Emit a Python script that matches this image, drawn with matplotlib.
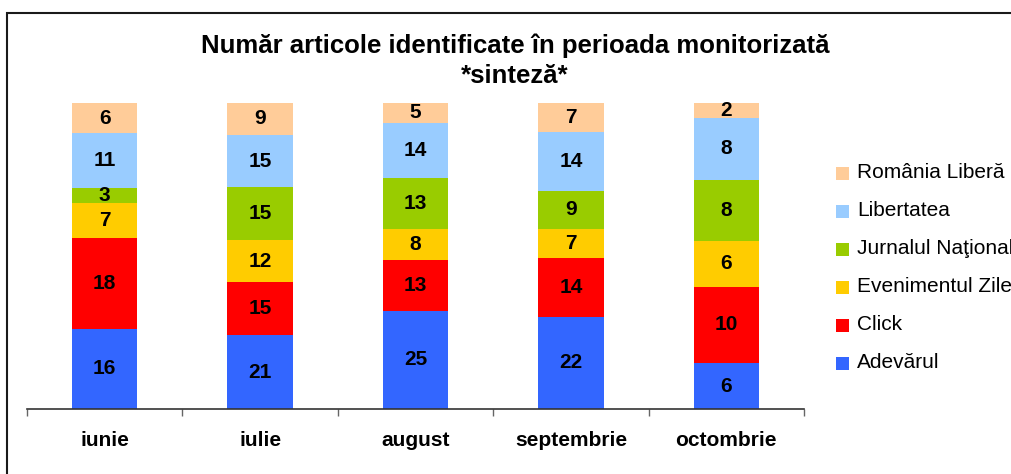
import matplotlib
matplotlib.use("Agg")
import matplotlib.pyplot as plt
from matplotlib.patches import Rectangle
import numpy as np

plt.rcParams['font.family'] = ['Liberation Sans', 'DejaVu Sans']

months = ["iunie", "iulie", "august", "septembrie", "octombrie"]
series_names = ["Adevărul", "Click", "Evenimentul Zilei", "Jurnalul Naţional", "Libertatea", "România Liberă"]
adevarul = [16, 21, 25, 22, 6]
click = [18, 15, 13, 14, 10]
evenimentul = [7, 12, 8, 7, 6]
jurnalul = [3, 15, 13, 9, 8]
libertatea = [11, 15, 14, 14, 8]
romania_libera = [6, 9, 5, 7, 2]
colors = ["#3366FF", "#FF0000", "#FFCC00", "#99CC00", "#99CCFF", "#FFCC99"]
title = "Număr articole identificate în perioada monitorizată\n*sinteză*"

W, H = 1011, 474
fig = plt.figure(figsize=(W / 100, H / 100), dpi=100)

# outer border
fig.patches.append(Rectangle((7 / W, -0.1), 1.2, (H - 13) / H + 0.1, transform=fig.transFigure,
                             fill=False, edgecolor="#1a1a1a", linewidth=1.5))

ax = fig.add_axes([27 / W, 1 - 409 / H, (804 - 27) / W, (409 - 103) / H])

data = np.array([adevarul, click, evenimentul, jurnalul, libertatea, romania_libera], dtype=float)
totals = data.sum(axis=0)
frac = data / totals
x = np.arange(len(months))
bottom = np.zeros(len(months))
for i in range(len(series_names)):
    ax.bar(x, frac[i], 0.42, bottom=bottom, color=colors[i], linewidth=0)
    for j in range(len(months)):
        ax.text(x[j], bottom[j] + frac[i][j] / 2, f"{int(data[i][j])}", ha="center", va="center",
                fontsize=15, fontweight="bold", color="black")
    bottom += frac[i]

ax.set_xlim(-0.5, len(months) - 0.5)
ax.set_ylim(0, 1)
ax.set_yticks([])
for s in ["left", "top", "right"]:
    ax.spines[s].set_visible(False)
ax.spines["bottom"].set_color("#333333")
ax.spines["bottom"].set_linewidth(1.2)
ax.set_xticks(np.arange(-0.5, len(months), 1.0))
ax.set_xticklabels([])
ax.tick_params(axis="x", which="major", length=5, width=1, color="#666666", direction="out")
ax.set_xticks(x, minor=True)
ax.set_xticklabels(months, minor=True, fontsize=15, fontweight="bold")
ax.tick_params(axis="x", which="minor", length=0, pad=16)

fig.text(515 / W, 1 - 33 / H, title, ha="center", va="top", fontsize=18.5,
         fontweight="bold", linespacing=1.32)

# legend (top to bottom: reversed stacking order)
row_y = 173
for k, i in enumerate(range(len(series_names) - 1, -1, -1)):
    yc = row_y + k * 38
    fig.patches.append(Rectangle((836 / W, 1 - (yc + 7) / H), 13 / W, 13 / H,
                                 transform=fig.transFigure, facecolor=colors[i], edgecolor="none"))
    fig.text(857 / W, 1 - yc / H, series_names[i], ha="left", va="center", fontsize=15)

fig.savefig("out.png", dpi=100)
